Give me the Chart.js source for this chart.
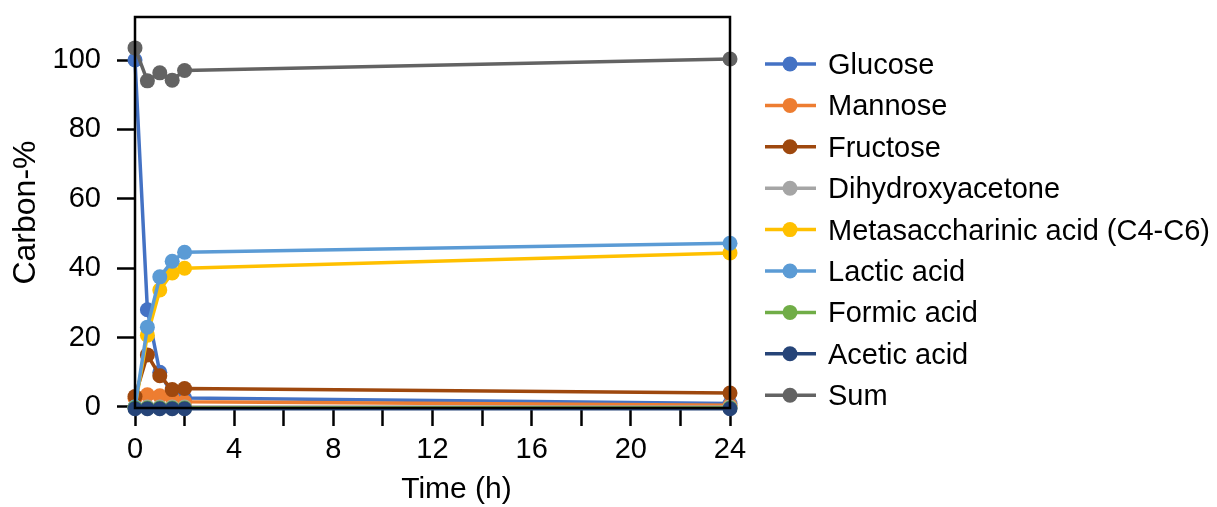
<!DOCTYPE html>
<html lang="en">
<head>
<meta charset="UTF-8">
<title>Carbon-%</title>
<script src="https://cdn.jsdelivr.net/npm/chart.js@4.4.1/dist/chart.umd.min.js"></script>
<style>
    html, body { margin: 0; padding: 0; background: #fff; }
    .chart-box { width: 1217px; height: 507px; }
</style>
</head>
<body>
<div class="chart-box"><canvas id="carbon-chart"></canvas></div>
<script>
// Datos (tiempo en horas, Carbon-%)
const times = [0, 0.5, 1, 1.5, 2, 24];

const glucose = [100, 28, 10, 3.5, 2.6, 1];
const mannose = [2.5, 3.5, 3.2, 2.6, 1.5, 0.5];
const fructose = [3, 15, 9, 5, 5.3, 4];
const dihydroxyacetone = [0, 0, 0, 0, 0, 0];
const metasaccharinic = [0, 20.7, 33.7, 38.6, 40, 44.4];
const lactic = [0, 23, 37.5, 42, 44.6, 47.2];
const formic = [-0.3, -0.3, -0.3, -0.3, -0.3, -0.3];
const acetic = [-0.5, -0.5, -0.5, -0.5, -0.5, -0.5];
const sum = [103.5, 94, 96.3, 94.2, 97, 100.3];

const seriesNames = ['Glucose', 'Mannose', 'Fructose', 'Dihydroxyacetone',
    'Metasaccharinic acid (C4-C6)', 'Lactic acid', 'Formic acid', 'Acetic acid', 'Sum'];
const seriesValues = [glucose, mannose, fructose, dihydroxyacetone,
    metasaccharinic, lactic, formic, acetic, sum];
const seriesColors = ['#4472C4', '#ED7D31', '#9E480E', '#A5A5A5',
    '#FFC000', '#5B9BD5', '#70AD47', '#264478', '#636363'];

const xTicks = [0, 2, 4, 6, 8, 10, 12, 14, 16, 18, 20, 22, 24];
const yTicks = [0, 20, 40, 60, 80, 100];

const FONT = '"Liberation Sans", Arial, Helvetica, sans-serif';
const FONT_SIZE = 29;
Chart.defaults.font.family = FONT;
Chart.defaults.color = '#000';

// Conjuntos de datos: los últimos se dibujan encima
const datasets = seriesNames.map((name, i) => ({
    label: name,
    data: times.map((t, j) => ({ x: t, y: seriesValues[i][j] })),
    borderColor: seriesColors[i],
    backgroundColor: seriesColors[i],
    pointBackgroundColor: seriesColors[i],
    pointBorderWidth: 0,
    pointRadius: 7.5,
    borderWidth: 3.5,
    tension: 0,
    clip: false,
    order: seriesNames.length - i
}));

// Marco negro alrededor del área del gráfico y título del eje X
const framePlugin = {
    id: 'frame',
    afterDatasetsDraw(chart) {
        const { ctx, chartArea } = chart;
        ctx.save();
        ctx.strokeStyle = '#000';
        ctx.lineWidth = 2.5;
        ctx.strokeRect(chartArea.left, chartArea.top,
            chartArea.right - chartArea.left, chartArea.bottom - chartArea.top);

        ctx.fillStyle = '#000';
        ctx.font = '30px ' + FONT;
        ctx.textAlign = 'center';
        ctx.textBaseline = 'middle';
        ctx.fillText('Time (h)', (chartArea.left + chartArea.right) / 2 + 24, chart.height - 17);
        ctx.restore();
    }
};

// Leyenda a la derecha: línea con marcador y texto
const sideLegend = {
    id: 'sideLegend',
    afterDraw(chart) {
        const { ctx, chartArea } = chart;
        const x0 = chartArea.right + 35;
        const rowStart = 64;
        const rowGap = 41.4;
        ctx.save();
        ctx.font = FONT_SIZE + 'px ' + FONT;
        ctx.textBaseline = 'middle';
        ctx.textAlign = 'left';
        chart.data.datasets.forEach((ds, i) => {
            const y = rowStart + i * rowGap;
            ctx.strokeStyle = ds.borderColor;
            ctx.lineWidth = 3.5;
            ctx.beginPath();
            ctx.moveTo(x0, y);
            ctx.lineTo(x0 + 51, y);
            ctx.stroke();
            ctx.fillStyle = ds.borderColor;
            ctx.beginPath();
            ctx.arc(x0 + 25, y, 7.5, 0, Math.PI * 2);
            ctx.fill();
            ctx.fillStyle = '#000';
            ctx.fillText(ds.label, x0 + 63, y + 2);
        });
        ctx.restore();
    }
};

const axisGrid = {
    drawOnChartArea: false,
    drawTicks: true,
    tickLength: 18,
    tickWidth: 2.5,
    tickColor: '#000'
};

const ctx = document.getElementById('carbon-chart').getContext('2d');
new Chart(ctx, {
    type: 'line',
    data: { datasets: datasets },
    options: {
        responsive: true,
        maintainAspectRatio: false,
        animation: false,
        layout: { padding: { top: 17, right: 487, left: 0, bottom: 0 } },
        plugins: {
            legend: { display: false },
            tooltip: { enabled: false }
        },
        scales: {
            x: {
                type: 'linear',
                min: 0,
                max: 24,
                afterBuildTicks: scale => { scale.ticks = xTicks.map(v => ({ value: v })); },
                afterFit: scale => {
                    scale.height = 99;
                    scale.paddingLeft = 0;
                    scale.paddingRight = 0;
                },
                ticks: {
                    font: { size: FONT_SIZE },
                    color: '#000',
                    padding: 7,
                    maxRotation: 0,
                    autoSkip: false,
                    callback: v => (v % 4 === 0 ? v : '')
                },
                grid: axisGrid,
                border: { display: false }
            },
            y: {
                min: -0.3,
                max: 112.4,
                afterBuildTicks: scale => { scale.ticks = yTicks.map(v => ({ value: v })); },
                afterFit: scale => {
                    scale.width = 135;
                    scale.paddingTop = 0;
                    scale.paddingBottom = 0;
                },
                ticks: {
                    font: { size: FONT_SIZE },
                    color: '#000',
                    padding: 16
                },
                grid: axisGrid,
                border: { display: false },
                title: {
                    display: true,
                    text: 'Carbon-%',
                    font: { size: 32 },
                    color: '#000',
                    padding: { top: 7, bottom: 0 }
                }
            }
        }
    },
    plugins: [framePlugin, sideLegend]
});
</script>
</body>
</html>
